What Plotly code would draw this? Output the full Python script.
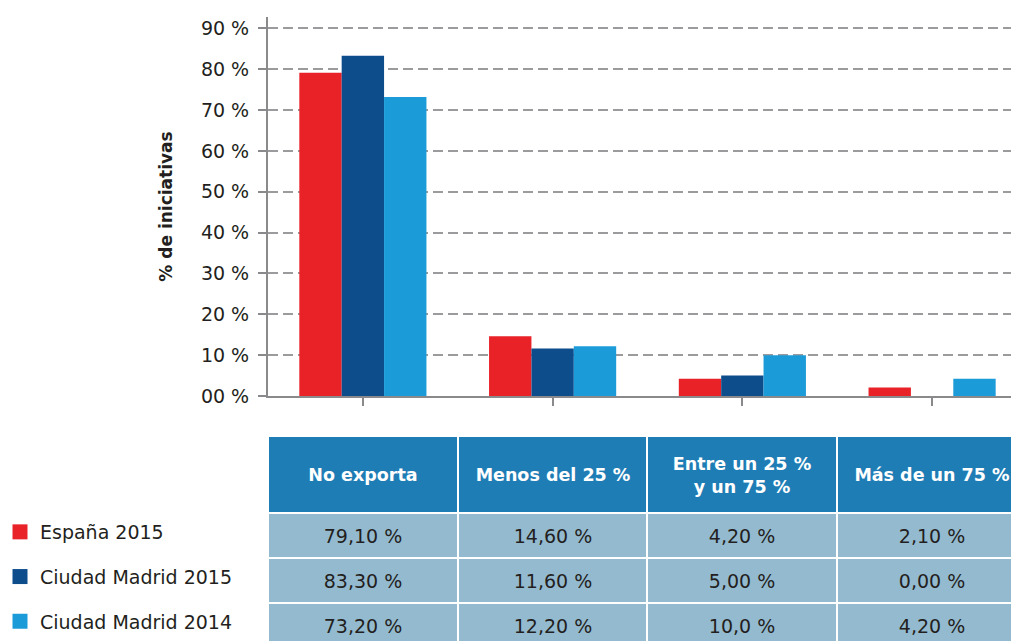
import plotly.graph_objects as go

# Export share categories (columns of the table)
categories = ["No exporta", "Menos del 25 %", "Entre un 25 %<br>y un 75 %", "Más de un 75 %"]
series_names = ["España 2015", "Ciudad Madrid 2015", "Ciudad Madrid 2014"]

espana_2015 = [79.10, 14.60, 4.20, 2.10]
madrid_2015 = [83.30, 11.60, 5.00, 0.00]
madrid_2014 = [73.20, 12.20, 10.0, 4.20]

# Text shown in the table cells
espana_2015_txt = ["79,10 %", "14,60 %", "4,20 %", "2,10 %"]
madrid_2015_txt = ["83,30 %", "11,60 %", "5,00 %", "0,00 %"]
madrid_2014_txt = ["73,20 %", "12,20 %", "10,0 %", "4,20 %"]

y_tick_vals = [0, 10, 20, 30, 40, 50, 60, 70, 80, 90]
y_tick_text = ["00 %", "10 %", "20 %", "30 %", "40 %", "50 %", "60 %", "70 %", "80 %", "90 %"]

colors = ["#e92228", "#0e4d8c", "#1b9cd8"]
header_color = "#1f7db5"
cell_color = "#94bad0"
text_color = "#231f20"
axis_color = "#8a8a8c"
grid_color = "#9b9b9d"
FONT = "DejaVu Sans"

W, H = 1011, 641
plot_left, plot_top, plot_bottom = 268, 17, 396
table_top = 436
header_h, row_h = 77, 45
group_px = 190          # width of one category slot in pixels
first_center_px = 362   # pixel position of the first category centre

x_keys = [c.replace("<br>", " ") for c in categories]
x_range = [-0.5, (W - first_center_px) / group_px]

fig = go.Figure()

# Grouped bars
for name, vals, col in zip(series_names, [espana_2015, madrid_2015, madrid_2014], colors):
    fig.add_trace(go.Bar(
        x=x_keys, y=vals, name=name, marker=dict(color=col, line=dict(width=0)),
        showlegend=False, hoverinfo="skip",
    ))

# Legend entries with square swatches
for name, col in zip(series_names, colors):
    fig.add_trace(go.Scatter(
        x=[None], y=[None], mode="markers", name=name, legendgroup=name,
        marker=dict(symbol="square", size=15, color=col),
    ))

# Table drawn as heatmap bricks on a second axis pair, aligned with the categories
col_edges = [i - 0.5 for i in range(len(categories) + 1)]
row_edges = [0, header_h] + [header_h + row_h * (i + 1) for i in range(3)]

fig.add_trace(go.Heatmap(
    x=col_edges, y=row_edges[:2], z=[[0] * len(categories)],
    text=[[f"<b>{c}</b>" for c in categories]], texttemplate="%{text}",
    textfont=dict(family=FONT, size=17.5, color="white"),
    colorscale=[[0, header_color], [1, header_color]], showscale=False,
    xgap=2, ygap=2, hoverinfo="skip", xaxis="x2", yaxis="y2",
))
fig.add_trace(go.Heatmap(
    x=col_edges, y=row_edges[1:], z=[[0] * len(categories)] * 3,
    text=[espana_2015_txt, madrid_2015_txt, madrid_2014_txt], texttemplate="%{text}",
    textfont=dict(family=FONT, size=19, color=text_color),
    colorscale=[[0, cell_color], [1, cell_color]], showscale=False,
    xgap=2, ygap=2, hoverinfo="skip", xaxis="x2", yaxis="y2",
))

fig.update_layout(
    width=W, height=H,
    margin=dict(l=0, r=0, t=0, b=0),
    paper_bgcolor="white", plot_bgcolor="rgba(0,0,0,0)",
    barmode="group", bargap=0.33, bargroupgap=0,
    font=dict(family=FONT, size=19, color=text_color),
    xaxis=dict(
        domain=[plot_left / W, 1],
        type="category",
        range=x_range,
        showticklabels=False, automargin=False,
        ticks="outside", ticklen=8, tickwidth=2, tickcolor=axis_color,
        showline=True, linecolor=axis_color, linewidth=2,
        showgrid=False, zeroline=False, fixedrange=True,
    ),
    yaxis=dict(
        domain=[(H - plot_bottom) / H, (H - plot_top) / H],
        range=[0, (plot_bottom - plot_top) / ((plot_bottom - 28.3) / 90)],
        tickvals=y_tick_vals, ticktext=y_tick_text, automargin=False,
        ticks="outside", ticklen=8, tickwidth=2, tickcolor=axis_color,
        ticklabelstandoff=5,
        showline=True, linecolor=axis_color, linewidth=2,
        showgrid=True, gridcolor=grid_color, gridwidth=1.5, griddash="10px,5px",
        zeroline=False, fixedrange=True,
        tickfont=dict(family=FONT, size=19, color=text_color),
        title=dict(text="<b>% de iniciativas</b>", standoff=24,
                   font=dict(family=FONT, size=17, color=text_color)),
    ),
    xaxis2=dict(
        domain=[plot_left / W, 1], range=x_range, anchor="y2",
        visible=False, fixedrange=True, automargin=False,
    ),
    yaxis2=dict(
        domain=[0, (H - table_top) / H], range=[H - table_top, 0], anchor="x2",
        visible=False, fixedrange=True, automargin=False,
    ),
    showlegend=True,
    legend=dict(
        x=0.0, xanchor="left", y=0, yanchor="bottom",
        traceorder="grouped", tracegroupgap=17,
        font=dict(family=FONT, size=19, color=text_color),
        bgcolor="rgba(0,0,0,0)",
        itemclick=False, itemdoubleclick=False,
    ),
)

fig.write_html("out.html")
